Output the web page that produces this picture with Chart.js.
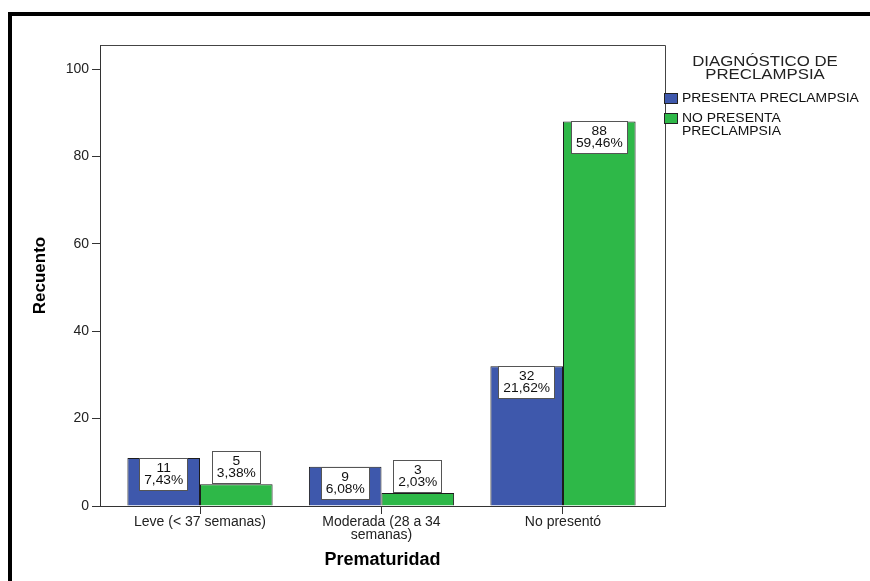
<!DOCTYPE html>
<html>
<head>
<meta charset="utf-8">
<script src="https://cdn.jsdelivr.net/npm/chart.js@4/dist/chart.umd.min.js"></script>
<style>
  html, body { margin: 0; padding: 0; background: #fff; }
  #wrap { width: 870px; height: 581px; position: relative; }
</style>
</head>
<body>
<div id="wrap"><canvas id="c" width="870" height="581"></canvas></div>
<script>
// Categories of prematurity (multi-line labels as arrays)
const categories = [['Leve (< 37 semanas)'], ['Moderada (28 a 34', 'semanas)'], ['No presentó']];
// Counts per series
const presenta = [11, 9, 32];
const noPresenta = [5, 3, 88];
// Series names and legend heading
const seriesNames = [['PRESENTA PRECLAMPSIA'], ['NO PRESENTA', 'PRECLAMPSIA']];
const legendTitle = ['DIAGNÓSTICO DE', 'PRECLAMPSIA'];
// Value axis ticks
const yTicks = [0, 20, 40, 60, 80, 100];
const xTitle = 'Prematuridad';
const yTitle = 'Recuento';

const FONT = "'Liberation Sans', Arial, Helvetica, sans-serif";
const colors = ['#3E58AC', '#2EB848'];
const total = presenta.concat(noPresenta).reduce((a, b) => a + b, 0);
const toPoints = arr => arr.map((v, i) => ({ x: i, y: v }));
const pct = v => (v / total * 100).toFixed(2).replace('.', ',') + '%';

// Draws text squeezed/widened horizontally by sx
function sText(ctx, txt, x, y, align, sx) {
  ctx.save();
  ctx.translate(x, y);
  ctx.scale(sx, 1);
  ctx.textAlign = align;
  ctx.fillText(txt, 0, 0);
  ctx.restore();
}

const decor = {
  id: 'decor',
  afterDraw(chart) {
    const ctx = chart.ctx;
    const a = chart.chartArea;
    ctx.save();

    // plot frame (top and right edges)
    ctx.strokeStyle = '#444';
    ctx.lineWidth = 1;
    ctx.beginPath();
    ctx.moveTo(Math.round(a.left) + 0.5, Math.round(a.top) + 0.5);
    ctx.lineTo(Math.round(a.right) + 0.5, Math.round(a.top) + 0.5);
    ctx.lineTo(Math.round(a.right) + 0.5, Math.round(a.bottom) + 0.5);
    ctx.stroke();

    // outer black border
    ctx.fillStyle = '#000';
    ctx.fillRect(8, 12, 4, chart.height - 12);
    ctx.fillRect(8, 12, chart.width - 8, 4);

    // value boxes on the bars
    const SX = 1.15, BOX_H = 33;
    ctx.font = '12px ' + FONT;
    ctx.textBaseline = 'middle';
    chart.data.datasets.forEach((ds, di) => {
      const meta = chart.getDatasetMeta(di);
      meta.data.forEach((bar, i) => {
        const v = ds.data[i].y;
        const l1 = String(v), l2 = pct(v);
        const tw = Math.max(ctx.measureText(l1).width, ctx.measureText(l2).width) * SX;
        const w = Math.round(tw + 10);
        const h = bar.base - bar.y;
        const top = h >= BOX_H ? Math.round(bar.y) : Math.round(bar.y) - BOX_H;
        const left = Math.round(bar.x - w / 2);
        ctx.fillStyle = '#fff';
        ctx.fillRect(left, top, w, BOX_H);
        ctx.strokeStyle = '#555';
        ctx.lineWidth = 1;
        ctx.strokeRect(left + 0.5, top + 0.5, w - 1, BOX_H - 1);
        ctx.fillStyle = '#111';
        sText(ctx, l1, bar.x, top + 10.5, 'center', SX);
        sText(ctx, l2, bar.x, top + 22.5, 'center', SX);
      });
    });

    // legend
    ctx.fillStyle = '#222';
    ctx.font = '14px ' + FONT;
    legendTitle.forEach((t, k) => sText(ctx, t, 765, 62 + k * 13, 'center', 1.2));
    const itemTop = [93, 113];
    ctx.font = '12px ' + FONT;
    seriesNames.forEach((lines, k) => {
      ctx.fillStyle = colors[k];
      ctx.fillRect(664, itemTop[k], 14, 11);
      ctx.strokeStyle = '#222';
      ctx.strokeRect(664.5, itemTop[k] + 0.5, 13, 10);
      ctx.fillStyle = '#111';
      lines.forEach((t, j) => sText(ctx, t, 682, itemTop[k] + 6 + j * 13, 'left', 1.16));
    });
    ctx.restore();
  }
};

new Chart(document.getElementById('c'), {
  type: 'bar',
  data: {
    datasets: [
      { label: seriesNames[0].join(' '), data: toPoints(presenta), backgroundColor: colors[0],
        borderColor: '#1c1c1c', borderWidth: 1, categoryPercentage: 0.8, barPercentage: 1.0 },
      { label: seriesNames[1].join(' '), data: toPoints(noPresenta), backgroundColor: colors[1],
        borderColor: '#1c1c1c', borderWidth: 1, categoryPercentage: 0.8, barPercentage: 1.0 }
    ]
  },
  options: {
    responsive: false,
    animation: false,
    devicePixelRatio: 1,
    layout: { padding: { left: 0, top: 45, right: 205, bottom: 0 } },
    plugins: { legend: { display: false }, tooltip: { enabled: false } },
    scales: {
      x: {
        type: 'linear',
        min: -0.551,
        max: 2.562,
        offset: false,
        afterBuildTicks: s => { s.ticks = categories.map((_, i) => ({ value: i })); },
        afterFit: s => { s.height = 75; },
        grid: { display: true, offset: false, drawOnChartArea: false, drawTicks: true, tickLength: 8, color: '#333', tickColor: '#333' },
        border: { display: true, color: '#333', width: 1 },
        ticks: {
          callback: v => categories[v] || '',
          font: { family: FONT, size: 14, lineHeight: '13px' },
          color: '#222', padding: 1.5, maxRotation: 0, minRotation: 0, autoSkip: false
        },
        title: { display: true, text: xTitle, color: '#000',
          font: { family: FONT, size: 18, weight: 'bold' }, padding: { top: 0, bottom: 10 } }
      },
      y: {
        min: 0,
        max: 105.5,
        afterBuildTicks: s => { s.ticks = yTicks.map(v => ({ value: v })); },
        afterFit: s => { s.width = 100; },
        grid: { display: true, drawOnChartArea: false, drawTicks: true, tickLength: 8, color: '#333', tickColor: '#333' },
        border: { display: true, color: '#333', width: 1 },
        ticks: { font: { family: FONT, size: 14 }, color: '#222', padding: 3 },
        title: { display: true, text: yTitle, color: '#000',
          font: { family: FONT, size: 17, weight: 'bold' }, padding: { top: 30, bottom: 0 } }
      }
    }
  },
  plugins: [decor]
});
</script>
</body>
</html>
